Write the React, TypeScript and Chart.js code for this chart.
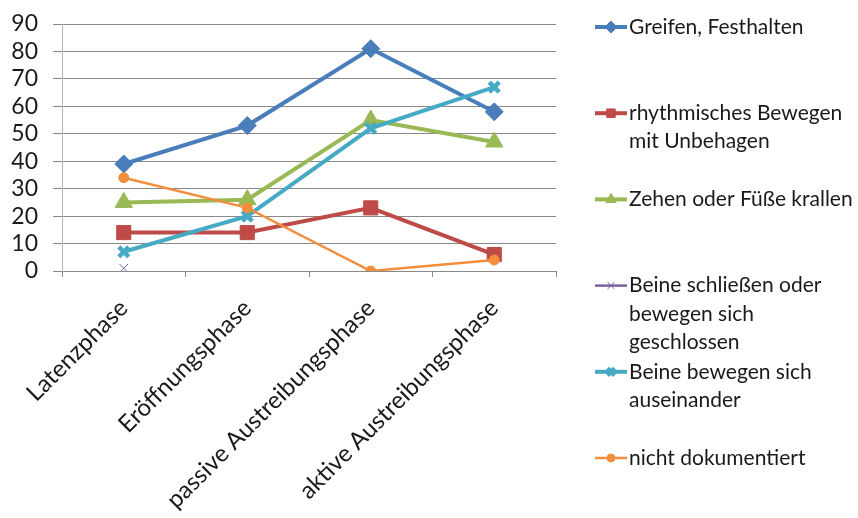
import React, { useEffect, useRef } from "react";
import { Chart, registerables } from "chart.js";
import { drawPoint } from "chart.js/helpers";

Chart.register(...registerables);

const categories = [
  "Latenzphase",
  "Eröffnungsphase",
  "passive Austreibungsphase",
  "aktive Austreibungsphase",
];
const greifen = [39, 53, 81, 58];
const rhythmisch = [14, 14, 23, 6];
const zehen = [25, 26, 55, 47];
const beineSchliessen = [1, null, null, null];
const beineAuseinander = [7, 20, 52, 67];
const nichtDokumentiert = [34, 23, 0, 4];

const seriesNames = [
  "Greifen, Festhalten",
  "rhythmisches Bewegen mit Unbehagen",
  "Zehen oder Füße krallen",
  "Beine schließen oder bewegen sich geschlossen",
  "Beine bewegen sich auseinander",
  "nicht dokumentiert",
];
const legendLines = [
  ["Greifen, Festhalten"],
  ["rhythmisches Bewegen", "mit Unbehagen"],
  ["Zehen oder Füße krallen"],
  ["Beine schließen oder", "bewegen sich", "geschlossen"],
  ["Beine bewegen sich", "auseinander"],
  ["nicht dokumentiert"],
];
const colors = ["#4A7EBB", "#BE4B48", "#98B954", "#7D60A0", "#46AAC5", "#F28F3E"];
const yMin = 0;
const yMax = 90;
const yStep = 10;

const FONT = "Lato, 'Open Sans', sans-serif";

const styles = [
  { pointStyle: "rectRot", radius: 9, lineW: 4, pbw: 1, legendR: 6 },
  { pointStyle: "rect", radius: 10, lineW: 4, pbw: 1, legendR: 6 },
  { pointStyle: "triangle", radius: 10, lineW: 4, pbw: 1, legendR: 6 },
  { pointStyle: "crossRot", radius: 6, lineW: 2.5, pbw: 1, legendR: 5 },
  { pointStyle: "crossRot", radius: 7, lineW: 4, pbw: 4.5, legendR: 5 },
  { pointStyle: "circle", radius: 5, lineW: 2.5, pbw: 1, legendR: 4 },
];

const legendPlugin = {
  id: "sideLegend",
  afterDraw(chart: any) {
    const ctx = chart.ctx;
    const lineX0 = chart.chartArea.right + 39;
    const lineX1 = lineX0 + 32;
    const markX = (lineX0 + lineX1) / 2;
    const textX = lineX1 + 2;
    const top = 27;
    const step = 86.2;
    const lh = 28.5;
    ctx.save();
    ctx.font = `21px ${FONT}`;
    ctx.textBaseline = "middle";
    ctx.textAlign = "left";
    legendLines.forEach((lines, i) => {
      const y = top + i * step;
      const st = styles[i];
      ctx.strokeStyle = colors[i];
      ctx.fillStyle = colors[i];
      ctx.lineWidth = st.lineW;
      ctx.beginPath();
      ctx.moveTo(lineX0, y);
      ctx.lineTo(lineX1, y);
      ctx.stroke();
      ctx.lineWidth = st.pbw;
      drawPoint(ctx, { pointStyle: st.pointStyle, radius: st.legendR, rotation: 0, borderWidth: st.pbw } as any, markX, y);
      ctx.fillStyle = "#1a1a1a";
      lines.forEach((t, j) => ctx.fillText(t, textX, y + j * lh));
    });
    ctx.restore();
  },
};

export default function App() {
  const ref = useRef<HTMLCanvasElement | null>(null);
  useEffect(() => {
    document.body.style.margin = "0";
    const data = [greifen, rhythmisch, zehen, beineSchliessen, beineAuseinander, nichtDokumentiert];
    const chart = new Chart(ref.current as HTMLCanvasElement, {
      type: "line",
      data: {
        labels: categories,
        datasets: data.map((d, i) => ({
          label: seriesNames[i],
          data: d,
          borderColor: colors[i],
          backgroundColor: colors[i],
          borderWidth: styles[i].lineW,
          pointStyle: styles[i].pointStyle as any,
          pointRadius: styles[i].radius,
          pointBorderWidth: styles[i].pbw,
          pointBackgroundColor: colors[i],
          pointBorderColor: colors[i],
          tension: 0,
          spanGaps: false,
          order: data.length - i,
        })),
      },
      options: {
        animation: false,
        responsive: true,
        maintainAspectRatio: false,
        layout: { padding: { top: 24, right: 302, left: 0, bottom: 0 } },
        plugins: { legend: { display: false }, tooltip: { enabled: false } },
        scales: {
          x: {
            offset: true,
            grid: { drawOnChartArea: false, drawTicks: true, tickLength: 6, offset: true, color: "#898989" },
            border: { display: true, color: "#898989", width: 1 },
            ticks: {
              autoSkip: false,
              maxRotation: 45,
              minRotation: 45,
              padding: 17,
              color: "#1a1a1a",
              font: { family: FONT, size: 24 },
            },
            afterFit: (s: any) => {
              s.height = 247;
              s.paddingLeft = 0;
              s.paddingRight = 0;
            },
          },
          y: {
            min: yMin,
            max: yMax,
            ticks: { stepSize: yStep, autoSkip: false, padding: 15, color: "#1a1a1a", font: { family: FONT, size: 23 } },
            grid: { color: "#898989", tickLength: 9, drawTicks: true },
            border: { display: true, color: "#b8b8b8", width: 1 },
            afterFit: (s: any) => {
              s.width = 62;
              s.paddingTop = 0;
              s.paddingBottom = 0;
            },
          },
        },
      },
      plugins: [legendPlugin],
    });
    return () => chart.destroy();
  }, []);
  return (
    <div style={{ position: "relative", width: 858, height: 518, background: "#fff" }}>
      <canvas ref={ref} />
    </div>
  );
}
